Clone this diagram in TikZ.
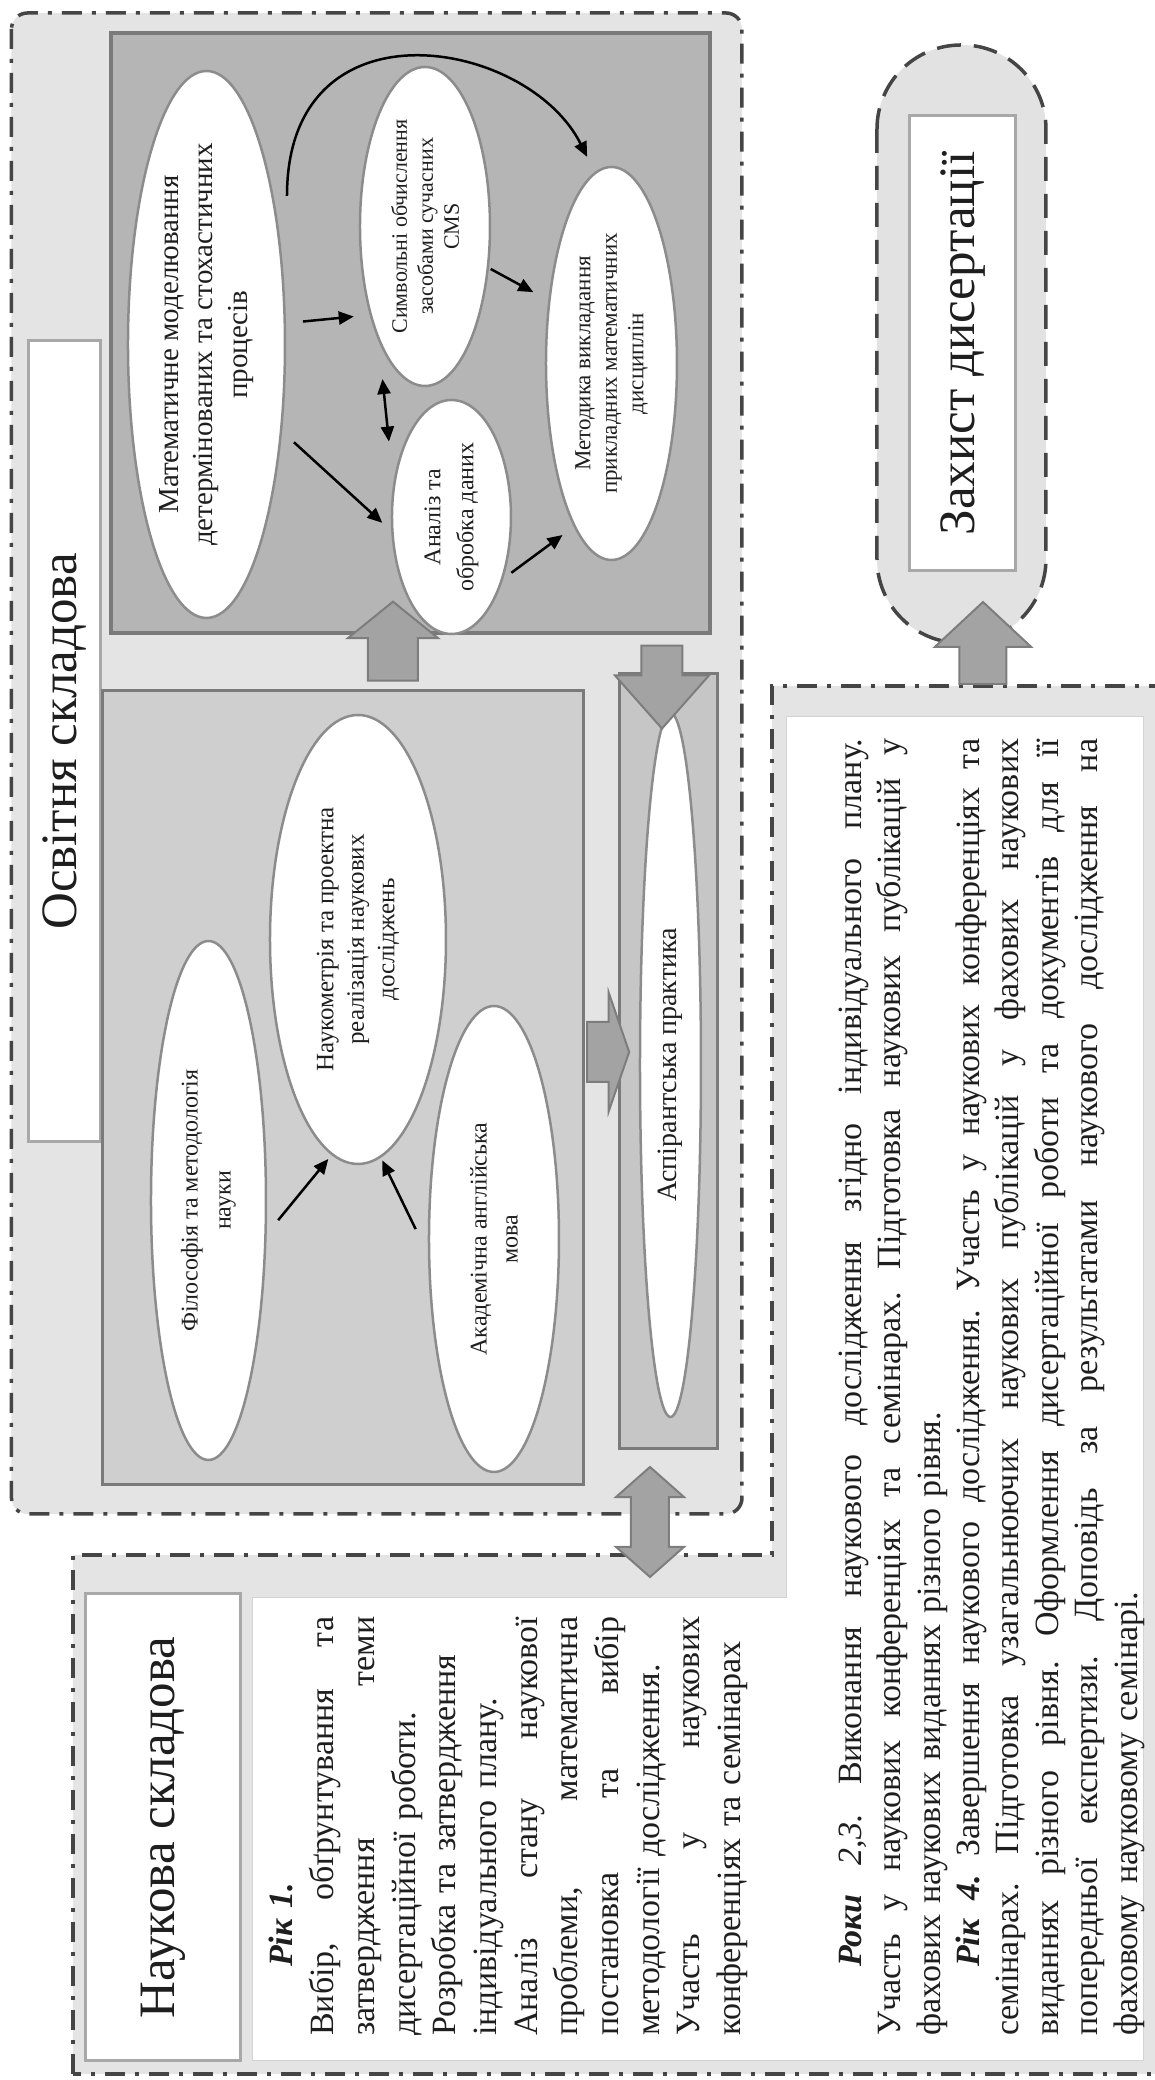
\documentclass[tikz,border=0pt]{standalone}
\usepackage{fontspec}
\setmainfont{Liberation Serif}
\usetikzlibrary{shapes.geometric,shapes.arrows,arrows.meta}

\definecolor{inkgray}{HTML}{1E1E1E}
\definecolor{paleback}{HTML}{E4E4E4}
\definecolor{darkback}{HTML}{B5B5B5}
\definecolor{midback}{HTML}{CFCFCF}
\definecolor{practback}{HTML}{C6C6C6}
\definecolor{zakhback}{HTML}{E2E2E2}
\definecolor{frameline}{HTML}{7A7A7A}
\definecolor{ovalline}{HTML}{8C8C8C}
\definecolor{titleline}{HTML}{A8A8A8}
\definecolor{dashline}{HTML}{454545}
\definecolor{blockfill}{HTML}{A3A3A3}
\definecolor{blockline}{HTML}{7D7D7D}

\newlength\rowind
\setlength\rowind{69pt}
\newlength\colw
\newcommand{\fullrow}[1]{\par\noindent\hbox to \colw{\frenchspacing\spaceskip=.25em plus 1fil\relax #1}\par}
\newcommand{\firstrow}[1]{\par\noindent\hbox to \colw{\hskip\rowind\frenchspacing\spaceskip=.25em plus 1fil\relax #1}\par}
\newcommand{\plainrow}[1]{\par\noindent\hbox{#1}\par}

\tikzset{
  dashframe/.style={draw=dashline, line width=3.5pt, dash pattern=on 20pt off 10pt on 4pt off 10pt},
  oval/.style={ellipse, draw=ovalline, line width=2.5pt, fill=white, inner sep=-10pt, align=center, text=inkgray},
  titlebox/.style={rectangle, draw=titleline, line width=3pt, fill=white, inner sep=2pt, text=inkgray, font=\fontsize{51}{60}\selectfont},
  framebox/.style={rectangle, draw=frameline, line width=3pt},
  arr/.style={draw=black, line width=2.5pt, -{Triangle[length=15pt,width=13pt]}},
  arrboth/.style={draw=black, line width=2.5pt, {Triangle[length=15pt,width=13pt]}-{Triangle[length=15pt,width=13pt]}},
  blockarr/.style={single arrow, fill=blockfill, draw=blockline, line width=2pt, inner xsep=0pt, single arrow head indent=0pt},
  textblock/.style={anchor=base west, inner sep=0pt, text=inkgray, font=\fontsize{34}{40.7}\selectfont}
}

\begin{document}
\begin{tikzpicture}[x=1pt, y=1pt]
\begin{scope}[rotate=90, transform shape]
  \useasboundingbox (0,0) rectangle (2080,1155);
  \clip (0,0) rectangle (2080,1155);

  \filldraw[fill=paleback, dashframe] (6,1082) -- (525,1082) -- (525,383) -- (1394,383) -- (1394,-20) -- (6,-20) -- cycle;
  \filldraw[fill=white, draw=titleline!50, line width=1pt] (19,902) -- (482,902) -- (482,368) -- (1363,368) -- (1363,11) -- (19,11) -- cycle;
  \node[titlebox, minimum width=467pt, minimum height=155pt] (nauktitle) at (252.5,991.5) {Наукова складова};

  \node[textblock, text width=419pt] (rik1) at (44,862) {\setlength\colw{419pt}%
    \noindent\hbox{\hskip\rowind\textbf{\textit{Рік 1.}}}\par
    \fullrow{Вибір, обґрунтування та}
    \fullrow{затвердження теми}
    \plainrow{дисертаційної роботи.}
    \plainrow{Розробка та затвердження}
    \plainrow{індивідуального плану.}
    \fullrow{Аналіз стану наукової}
    \fullrow{проблеми, математична}
    \fullrow{постановка та вибір}
    \plainrow{методології дослідження.}
    \fullrow{Участь у наукових}
    \plainrow{конференціях та семінарах}};

  \node[textblock, text width=1297pt, font=\fontsize{34}{39.4}\selectfont] (roky) at (44,333) {\setlength\colw{1297pt}%
    \firstrow{\textbf{\textit{Роки}} \textit{2,3.} Виконання наукового дослідження згідно індивідуального плану.}
    \fullrow{Участь у наукових конференціях та семінарах. Підготовка наукових публікацій у}
    \plainrow{фахових наукових виданнях різного рівня.}
    \firstrow{\textbf{\textit{Рік 4.}} Завершення наукового дослідження. Участь у наукових конференціях та}
    \fullrow{семінарах. Підготовка узагальнюючих наукових публікацій у фахових наукових}
    \fullrow{виданнях різного рівня. Оформлення дисертаційної роботи та документів для її}
    \fullrow{попередньої експертизи. Доповідь за результатами наукового дослідження на}
    \plainrow{фаховому науковому семінарі.}};

  \node[rectangle, fill=paleback, dashframe, rounded corners=16pt, minimum width=1501pt, minimum height=730.5pt] (osvbox) at (1316.5,778.25) {};
  \node[titlebox, minimum width=801pt, minimum height=72pt] (osvtitle) at (1338.5,1090) {Освітня складова};

  \node[framebox, fill=darkback, line width=4pt, minimum width=599.5pt, minimum height=599.5pt] (mathbox) at (1746.75,744.25) {};
  \node[framebox, fill=midback, minimum width=794pt, minimum height=481pt] (filbox) at (992,811.5) {};
  \node[framebox, fill=practback, minimum width=775pt, minimum height=98pt] (aspbox) at (1018.5,486) {};

  \node[oval, minimum width=547pt, minimum height=157pt, font=\fontsize{29}{34.5}\selectfont] (mathmod) at (1735.5,948.5) {Математичне моделювання\\детермінованих та стохастичних\\процесів};
  \node[oval, minimum width=319pt, minimum height=130pt, font=\fontsize{22}{26}\selectfont] (symb) at (1853.5,730) {Символьні обчислення\\засобами сучасних\\CMS};
  \node[oval, minimum width=234pt, minimum height=119pt, font=\fontsize{24}{33}\selectfont] (analiz) at (1563,703.5) {Аналіз та\\обробка даних};
  \node[oval, minimum width=393pt, minimum height=131pt, font=\fontsize{23}{26.5}\selectfont] (metod) at (1716.5,543.5) {Методика викладання\\прикладних математичних\\дисциплін};
  \node[oval, minimum width=449pt, minimum height=176pt, font=\fontsize{25}{30.5}\selectfont] (naukom) at (1140.5,797) {Наукометрія та проектна\\реалізація наукових\\досліджень};
  \node[oval, minimum width=519pt, minimum height=115pt, font=\fontsize{24}{33}\selectfont] (filos) at (879.5,946.5) {Філософія та методологія\\науки};
  \node[oval, minimum width=466pt, minimum height=130pt, font=\fontsize{24}{31}\selectfont] (akadem) at (841,661) {Академічна англійська\\мова};
  \node[oval, minimum width=704pt, minimum height=61pt, font=\fontsize{28}{33}\selectfont] (aspir) at (1015,484.5) {Аспірантська практика};

  \draw[arr, shorten <=17pt, shorten >=16pt] (mathmod.285) -- (symb.148);
  \draw[arr, shorten <=16pt, shorten >=12pt] (mathmod.221) -- (analiz.103);
  \draw[arrboth, shorten <=42pt, shorten >=38pt] (analiz.60) -- (symb.158);
  \draw[arr, shorten <=2pt, shorten >=17pt] (symb.237) -- (metod.45);
  \draw[arr, shorten <=10pt, shorten >=14pt] (analiz.220) -- (metod.167);
  \draw[arr, shorten <=18pt, shorten >=5pt] (filos.240) -- (naukom.173);
  \draw[arr, shorten <=28pt, shorten >=3pt] (akadem.103) -- (naukom.186);
  \coordinate (arcfrom) at (1884,868);
  \draw[arr, shorten >=17pt] (arcfrom) .. controls +(200,0) and +(134,67) .. (metod.5);

  \node[blockarr, inner ysep=24pt, minimum height=79pt, single arrow head extend=20pt, single arrow tip angle=102] (uparr) at (1428.7,762) {};
  \node[blockarr, rotate=-90, inner ysep=29pt, minimum height=42pt, single arrow head extend=29.5pt, single arrow tip angle=142] (downarr) at (1028,552) {};
  \node[blockarr, rotate=180, inner ysep=19.5pt, minimum height=83pt, single arrow head extend=26.5pt, single arrow tip angle=83] (backarr) at (1404.5,493) {};
  \node[double arrow, fill=blockfill, draw=blockline, line width=2pt, inner xsep=0pt, inner ysep=18pt, minimum height=110pt, double arrow head extend=15pt, double arrow tip angle=97] (linkarr) at (558,505) {};

  \node[rectangle, rounded corners=84pt, fill=zakhback, draw=dashline, line width=3.5pt, dash pattern=on 24pt off 13pt, minimum width=598pt, minimum height=169pt] (zakhbox) at (1736,193.5) {};
  \node[titlebox, minimum width=455pt, minimum height=106pt] (zakhtitle) at (1736.5,192) {Захист дисертації};
  \node[blockarr, inner ysep=22.5pt, minimum height=82pt, single arrow head extend=24.5pt, single arrow tip angle=94] (defarr) at (1426,172) {};
\end{scope}
\end{tikzpicture}
\end{document}
